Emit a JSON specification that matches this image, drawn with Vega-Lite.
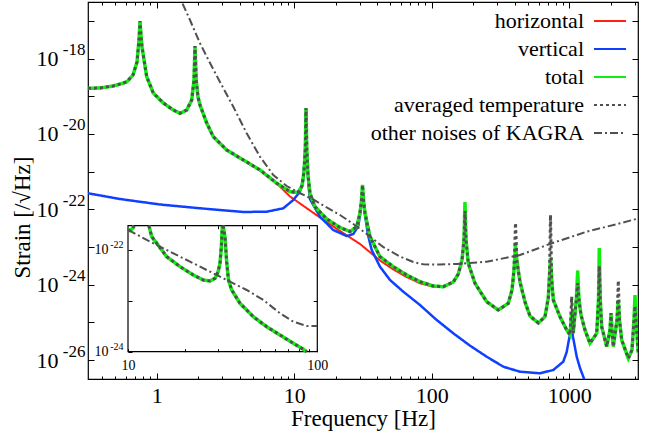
{
  "$schema": "https://vega.github.io/schema/vega-lite/v6.json",
  "width": 550,
  "height": 377,
  "autosize": {"type": "none"},
  "padding": {"left": 88, "top": 2, "right": 16, "bottom": 58},
  "background": "white",
  "config": {
    "font": "'Liberation Serif', 'Times New Roman', 'DejaVu Serif', serif",
    "view": {"stroke": "black", "strokeWidth": 1.2},
    "axis": {"domain": false, "grid": false, "tickColor": "black", "tickWidth": 1, "labelColor": "black", "titleColor": "black", "labelFont": "'Liberation Serif', 'Times New Roman', 'DejaVu Serif', serif", "titleFont": "'Liberation Serif', 'Times New Roman', 'DejaVu Serif', serif", "titleFontWeight": "normal", "labelOverlap": false, "labelFlush": false, "labelBound": false},
    "legend": {"orient": "none", "legendX": 505, "legendY": 2, "padding": 0, "labelFont": "'Liberation Serif', 'Times New Roman', 'DejaVu Serif', serif", "labelFontSize": 22, "labelColor": "black", "labelAlign": "right", "labelOffset": -43, "labelLimit": 0, "symbolType": "stroke", "symbolSize": 1024, "symbolStrokeWidth": 2, "rowPadding": -0.5}
  },
  "datasets": {
    "main": [
      {"s":"horizontal","f":0.3162,"h":1.626e-19},{"s":"horizontal","f":0.3867,"h":1.656e-19},{"s":"horizontal","f":0.4807,"h":1.871e-19},{"s":"horizontal","f":0.5588,"h":2.178e-19},{"s":"horizontal","f":0.6076,"h":2.432e-19},{"s":"horizontal","f":0.6718,"h":3.664e-19},{"s":"horizontal","f":0.7186,"h":8.09e-19},{"s":"horizontal","f":0.743,"h":3.105e-18},{"s":"horizontal","f":0.7556,"h":9.91e-18},{"s":"horizontal","f":0.7684,"h":3.963e-18},{"s":"horizontal","f":0.7811,"h":2.023e-18},{"s":"horizontal","f":0.8451,"h":3.3e-19},{"s":"horizontal","f":0.9438,"h":1.219e-19},{"s":"horizontal","f":1.116,"h":6.62e-20},{"s":"horizontal","f":1.319,"h":4.315e-20},{"s":"horizontal","f":1.476,"h":3.53e-20},{"s":"horizontal","f":1.651,"h":4.315e-20},{"s":"horizontal","f":1.796,"h":7.96e-20},{"s":"horizontal","f":1.866,"h":2.698e-19},{"s":"horizontal","f":1.897,"h":2.153e-18},{"s":"horizontal","f":1.936,"h":2.698e-19},{"s":"horizontal","f":1.995,"h":9.55e-20},{"s":"horizontal","f":2.063,"h":5.86e-20},{"s":"horizontal","f":2.308,"h":1.95e-20},{"s":"horizontal","f":2.578,"h":8.45e-21},{"s":"horizontal","f":3.227,"h":3.75e-21},{"s":"horizontal","f":4.262,"h":2.037e-21},{"s":"horizontal","f":5.636,"h":1.107e-21},{"s":"horizontal","f":7.455,"h":4.91e-22},
      {"s":"horizontal","f":9.314,"h":2.19e-22},{"s":"horizontal","f":11.01,"h":1.43e-22},{"s":"horizontal","f":15.39,"h":6.08e-23},{"s":"horizontal","f":21.51,"h":2.67e-23},{"s":"horizontal","f":30.08,"h":1.205e-23},{"s":"horizontal","f":42.03,"h":4.4e-24},{"s":"horizontal","f":52.54,"h":2.55e-24},{"s":"horizontal","f":65.73,"h":1.6e-24},{"s":"horizontal","f":82.14,"h":1.1e-24},{"s":"horizontal","f":102.6,"h":8.8e-25},
      {"s":"horizontal","f":121.3,"h":8.87e-25},{"s":"horizontal","f":143.5,"h":1.183e-24},{"s":"horizontal","f":156,"h":1.928e-24},{"s":"horizontal","f":166,"h":4.53e-24},{"s":"horizontal","f":171.6,"h":1.538e-23},{"s":"horizontal","f":174.5,"h":1.567e-22},{"s":"horizontal","f":177.5,"h":1.538e-23},{"s":"horizontal","f":184.4,"h":3.71e-24},{"s":"horizontal","f":206.3,"h":1.092e-24},{"s":"horizontal","f":250.9,"h":3.55e-25},{"s":"horizontal","f":304.8,"h":2.14e-25},{"s":"horizontal","f":360.4,"h":3.22e-25},{"s":"horizontal","f":383.4,"h":7.26e-25},{"s":"horizontal","f":396.5,"h":2.46e-24},{"s":"horizontal","f":406.6,"h":1.132e-23},{"s":"horizontal","f":416.9,"h":4.01e-24},{"s":"horizontal","f":438.3,"h":1.183e-24},{"s":"horizontal","f":476.8,"h":3.48e-25},{"s":"horizontal","f":518.2,"h":1.483e-25},{"s":"horizontal","f":595.6,"h":9.66e-26},{"s":"horizontal","f":666.1,"h":1.422e-25},{"s":"horizontal","f":704,"h":4.45e-25},{"s":"horizontal","f":718.4,"h":1.815e-24},{"s":"horizontal","f":730.5,"h":5.13e-24},{"s":"horizontal","f":745.4,"h":1.337e-24},{"s":"horizontal","f":765.6,"h":3.94e-25},{"s":"horizontal","f":856.3,"h":1.422e-25},{"s":"horizontal","f":958.3,"h":6.31e-26},{"s":"horizontal","f":1013,"h":4.65e-26},{"s":"horizontal","f":1042,"h":1.892e-25},{"s":"horizontal","f":1070,"h":5.25e-26},{"s":"horizontal","f":1125,"h":3.94e-25},{"s":"horizontal","f":1152,"h":2.36e-24},{"s":"horizontal","f":1177,"h":3.94e-25},{"s":"horizontal","f":1218,"h":1.578e-25},{"s":"horizontal","f":1301,"h":6.31e-26},{"s":"horizontal","f":1415,"h":2.8e-26},{"s":"horizontal","f":1584,"h":5.15e-26},{"s":"horizontal","f":1632,"h":3.94e-25},{"s":"horizontal","f":1654,"h":9.44e-24},{"s":"horizontal","f":1682,"h":3.94e-25},{"s":"horizontal","f":1722,"h":7.71e-26},{"s":"horizontal","f":1873,"h":2.28e-26},{"s":"horizontal","f":1979,"h":6.31e-26},{"s":"horizontal","f":2012,"h":1.782e-25},{"s":"horizontal","f":2046,"h":6.31e-26},{"s":"horizontal","f":2091,"h":2.28e-26},{"s":"horizontal","f":2225,"h":1.161e-25},{"s":"horizontal","f":2274,"h":3.94e-25},{"s":"horizontal","f":2320,"h":1.161e-25},{"s":"horizontal","f":2407,"h":3.42e-26},{"s":"horizontal","f":2689,"h":1.12e-26},{"s":"horizontal","f":2860,"h":1.86e-26},{"s":"horizontal","f":2957,"h":1.161e-25},{"s":"horizontal","f":3007,"h":5.35e-25},{"s":"horizontal","f":3058,"h":1.161e-25},{"s":"horizontal","f":3178,"h":1.55e-26},

      {"s":"vertical","f":0.3162,"h":2.67e-22},{"s":"vertical","f":0.5403,"h":1.88e-22},{"s":"vertical","f":1.056,"h":1.345e-22},{"s":"vertical","f":2.063,"h":1.067e-22},{"s":"vertical","f":4.262,"h":8.51e-23},{"s":"vertical","f":6.303,"h":8.67e-23},{"s":"vertical","f":8.326,"h":1.067e-22},{"s":"vertical","f":9.842,"h":1.77e-22},{"s":"vertical","f":11.01,"h":2.94e-22},{"s":"vertical","f":11.58,"h":6.01e-22},{"s":"vertical","f":11.97,"h":2.77e-21},{"s":"vertical","f":12.18,"h":4.315e-20},{"s":"vertical","f":12.38,"h":2.037e-21},{"s":"vertical","f":12.69,"h":4.43e-22},{"s":"vertical","f":13.01,"h":1.88e-22},{"s":"vertical","f":14.15,"h":1.086e-22},{"s":"vertical","f":15.39,"h":6.38e-23},{"s":"vertical","f":19.23,"h":2.83e-23},{"s":"vertical","f":24.07,"h":1.963e-23},{"s":"vertical","f":26.89,"h":2.22e-23},{"s":"vertical","f":29.23,"h":3.61e-23},{"s":"vertical","f":30.33,"h":8.51e-23},{"s":"vertical","f":30.99,"h":2.0e-22},{"s":"vertical","f":31.36,"h":3.92e-22},{"s":"vertical","f":31.78,"h":1.77e-22},{"s":"vertical","f":32.7,"h":7.08e-23},{"s":"vertical","f":34.39,"h":2.09e-23},{"s":"vertical","f":36.59,"h":8.35e-24},{"s":"vertical","f":42.03,"h":3.01e-24},{"s":"vertical","f":49.71,"h":1.337e-24},{"s":"vertical","f":62.11,"h":6.54e-25},{"s":"vertical","f":82.14,"h":2.9e-25},{"s":"vertical","f":108.6,"h":1.161e-25},{"s":"vertical","f":143.5,"h":5.15e-26},{"s":"vertical","f":189.8,"h":2.42e-26},{"s":"vertical","f":250.9,"h":1.235e-26},{"s":"vertical","f":331.5,"h":6.7e-27},{"s":"vertical","f":438.3,"h":4.94e-27},{"s":"vertical","f":612.9,"h":4.48e-27},{"s":"vertical","f":765.6,"h":5.48e-27},{"s":"vertical","f":904.4,"h":9.1e-27},{"s":"vertical","f":958.3,"h":1.644e-26},{"s":"vertical","f":984.2,"h":2.85e-26},{"s":"vertical","f":1021,"h":5.58e-26},{"s":"vertical","f":1042,"h":7.57e-26},{"s":"vertical","f":1065,"h":4.11e-26},{"s":"vertical","f":1133,"h":1.235e-26},{"s":"vertical","f":1197,"h":6.19e-27},{"s":"vertical","f":1265,"h":3.64e-27},{"s":"vertical","f":1346,"h":1.82e-27},

      {"s":"total","f":0.3162,"h":1.626e-19},{"s":"total","f":0.3867,"h":1.656e-19},{"s":"total","f":0.4807,"h":1.871e-19},{"s":"total","f":0.5588,"h":2.178e-19},{"s":"total","f":0.6076,"h":2.432e-19},{"s":"total","f":0.6718,"h":3.664e-19},{"s":"total","f":0.7186,"h":8.09e-19},{"s":"total","f":0.743,"h":3.105e-18},{"s":"total","f":0.7556,"h":9.91e-18},{"s":"total","f":0.7684,"h":3.963e-18},{"s":"total","f":0.7811,"h":2.023e-18},{"s":"total","f":0.8451,"h":3.3e-19},{"s":"total","f":0.9438,"h":1.219e-19},{"s":"total","f":1.116,"h":6.62e-20},{"s":"total","f":1.319,"h":4.315e-20},{"s":"total","f":1.476,"h":3.53e-20},{"s":"total","f":1.651,"h":4.315e-20},{"s":"total","f":1.796,"h":7.96e-20},{"s":"total","f":1.866,"h":2.698e-19},{"s":"total","f":1.897,"h":2.153e-18},{"s":"total","f":1.936,"h":2.698e-19},{"s":"total","f":1.995,"h":9.55e-20},{"s":"total","f":2.063,"h":5.86e-20},{"s":"total","f":2.308,"h":1.95e-20},{"s":"total","f":2.578,"h":8.45e-21},{"s":"total","f":3.227,"h":3.75e-21},{"s":"total","f":4.262,"h":2.037e-21},{"s":"total","f":5.636,"h":1.107e-21},{"s":"total","f":7.455,"h":4.91e-22},{"s":"total","f":9.314,"h":2.94e-22},{"s":"total","f":10.65,"h":2.8e-22},{"s":"total","f":11.39,"h":4.16e-22},{"s":"total","f":11.77,"h":9.79e-22},{"s":"total","f":12.03,"h":3.75e-21},{"s":"total","f":12.18,"h":4.88e-20},{"s":"total","f":12.34,"h":3.75e-21},{"s":"total","f":12.59,"h":8.15e-22},{"s":"total","f":13.01,"h":2.67e-22},{"s":"total","f":14.15,"h":1.175e-22},{"s":"total","f":17.22,"h":5.55e-23},{"s":"total","f":21.51,"h":3.3e-23},{"s":"total","f":25.44,"h":2.58e-23},{"s":"total","f":28.46,"h":3.47e-23},{"s":"total","f":30.08,"h":8.0e-23},{"s":"total","f":30.84,"h":1.77e-22},{"s":"total","f":31.36,"h":4.43e-22},{"s":"total","f":31.89,"h":1.77e-22},{"s":"total","f":32.7,"h":8.0e-23},{"s":"total","f":35.55,"h":1.88e-23},{"s":"total","f":42.03,"h":5.55e-24},{"s":"total","f":52.54,"h":3.01e-24},{"s":"total","f":65.73,"h":1.815e-24},{"s":"total","f":82.14,"h":1.205e-24},{"s":"total","f":102.6,"h":9.27e-25},{"s":"total","f":121.3,"h":8.87e-25},{"s":"total","f":143.5,"h":1.183e-24},{"s":"total","f":156,"h":1.928e-24},{"s":"total","f":166,"h":4.53e-24},{"s":"total","f":171.6,"h":1.538e-23},{"s":"total","f":174.5,"h":1.567e-22},{"s":"total","f":177.5,"h":1.538e-23},{"s":"total","f":184.4,"h":3.71e-24},{"s":"total","f":206.3,"h":1.092e-24},{"s":"total","f":250.9,"h":3.55e-25},{"s":"total","f":304.8,"h":2.14e-25},{"s":"total","f":360.4,"h":3.22e-25},{"s":"total","f":383.4,"h":7.26e-25},{"s":"total","f":396.5,"h":2.46e-24},{"s":"total","f":406.6,"h":1.132e-23},{"s":"total","f":416.9,"h":4.01e-24},{"s":"total","f":438.3,"h":1.183e-24},{"s":"total","f":476.8,"h":3.48e-25},{"s":"total","f":518.2,"h":1.483e-25},{"s":"total","f":595.6,"h":9.66e-26},{"s":"total","f":666.1,"h":1.422e-25},{"s":"total","f":704,"h":4.45e-25},{"s":"total","f":718.4,"h":1.815e-24},{"s":"total","f":730.5,"h":5.13e-24},{"s":"total","f":745.4,"h":1.337e-24},{"s":"total","f":765.6,"h":3.94e-25},{"s":"total","f":856.3,"h":1.422e-25},{"s":"total","f":958.3,"h":6.31e-26},{"s":"total","f":1013,"h":4.65e-26},{"s":"total","f":1042,"h":1.892e-25},{"s":"total","f":1070,"h":5.25e-26},{"s":"total","f":1125,"h":3.94e-25},{"s":"total","f":1152,"h":2.36e-24},{"s":"total","f":1177,"h":3.94e-25},{"s":"total","f":1218,"h":1.578e-25},{"s":"total","f":1301,"h":6.31e-26},{"s":"total","f":1415,"h":2.8e-26},{"s":"total","f":1584,"h":5.15e-26},{"s":"total","f":1632,"h":3.94e-25},{"s":"total","f":1654,"h":9.44e-24},{"s":"total","f":1682,"h":3.94e-25},{"s":"total","f":1722,"h":7.71e-26},{"s":"total","f":1873,"h":2.28e-26},{"s":"total","f":1979,"h":6.31e-26},{"s":"total","f":2012,"h":1.782e-25},{"s":"total","f":2046,"h":6.31e-26},{"s":"total","f":2091,"h":2.28e-26},{"s":"total","f":2225,"h":1.161e-25},{"s":"total","f":2274,"h":3.94e-25},{"s":"total","f":2320,"h":1.161e-25},{"s":"total","f":2407,"h":3.42e-26},{"s":"total","f":2689,"h":1.12e-26},{"s":"total","f":2860,"h":1.86e-26},{"s":"total","f":2957,"h":1.161e-25},{"s":"total","f":3007,"h":5.35e-25},{"s":"total","f":3058,"h":1.161e-25},{"s":"total","f":3178,"h":1.55e-26},

      {"s":"averaged temperature","f":0.3162,"h":1.626e-19},{"s":"averaged temperature","f":0.3867,"h":1.656e-19},{"s":"averaged temperature","f":0.4807,"h":1.871e-19},{"s":"averaged temperature","f":0.5588,"h":2.178e-19},{"s":"averaged temperature","f":0.6076,"h":2.432e-19},{"s":"averaged temperature","f":0.6718,"h":3.664e-19},{"s":"averaged temperature","f":0.7186,"h":8.09e-19},{"s":"averaged temperature","f":0.743,"h":3.105e-18},{"s":"averaged temperature","f":0.7556,"h":9.91e-18},{"s":"averaged temperature","f":0.7684,"h":3.963e-18},{"s":"averaged temperature","f":0.7811,"h":2.023e-18},{"s":"averaged temperature","f":0.8451,"h":3.3e-19},{"s":"averaged temperature","f":0.9438,"h":1.219e-19},{"s":"averaged temperature","f":1.116,"h":6.62e-20},{"s":"averaged temperature","f":1.319,"h":4.315e-20},{"s":"averaged temperature","f":1.476,"h":3.53e-20},{"s":"averaged temperature","f":1.651,"h":4.315e-20},{"s":"averaged temperature","f":1.796,"h":7.96e-20},{"s":"averaged temperature","f":1.866,"h":2.698e-19},{"s":"averaged temperature","f":1.897,"h":2.153e-18},{"s":"averaged temperature","f":1.936,"h":2.698e-19},{"s":"averaged temperature","f":1.995,"h":9.55e-20},{"s":"averaged temperature","f":2.063,"h":5.86e-20},{"s":"averaged temperature","f":2.308,"h":1.95e-20},{"s":"averaged temperature","f":2.578,"h":8.45e-21},{"s":"averaged temperature","f":3.227,"h":3.75e-21},{"s":"averaged temperature","f":4.262,"h":2.037e-21},{"s":"averaged temperature","f":5.636,"h":1.107e-21},{"s":"averaged temperature","f":7.455,"h":4.91e-22},{"s":"averaged temperature","f":9.314,"h":2.94e-22},{"s":"averaged temperature","f":10.65,"h":2.8e-22},{"s":"averaged temperature","f":11.39,"h":4.16e-22},{"s":"averaged temperature","f":11.77,"h":9.79e-22},{"s":"averaged temperature","f":12.03,"h":3.75e-21},{"s":"averaged temperature","f":12.18,"h":4.88e-20},{"s":"averaged temperature","f":12.34,"h":3.75e-21},{"s":"averaged temperature","f":12.59,"h":8.15e-22},{"s":"averaged temperature","f":13.01,"h":2.67e-22},{"s":"averaged temperature","f":14.15,"h":1.175e-22},{"s":"averaged temperature","f":17.22,"h":5.55e-23},{"s":"averaged temperature","f":21.51,"h":3.3e-23},{"s":"averaged temperature","f":25.44,"h":2.58e-23},{"s":"averaged temperature","f":28.46,"h":3.47e-23},{"s":"averaged temperature","f":30.08,"h":8.0e-23},{"s":"averaged temperature","f":30.84,"h":1.77e-22},{"s":"averaged temperature","f":31.36,"h":4.43e-22},{"s":"averaged temperature","f":31.89,"h":1.77e-22},{"s":"averaged temperature","f":32.7,"h":8.0e-23},{"s":"averaged temperature","f":35.55,"h":1.88e-23},{"s":"averaged temperature","f":42.03,"h":5.55e-24},{"s":"averaged temperature","f":52.54,"h":3.01e-24},{"s":"averaged temperature","f":65.73,"h":1.815e-24},{"s":"averaged temperature","f":82.14,"h":1.205e-24},{"s":"averaged temperature","f":102.6,"h":9.27e-25},{"s":"averaged temperature","f":121.3,"h":8.87e-25},{"s":"averaged temperature","f":143.5,"h":1.183e-24},{"s":"averaged temperature","f":156,"h":1.928e-24},{"s":"averaged temperature","f":166,"h":4.53e-24},{"s":"averaged temperature","f":171.6,"h":1.538e-23},{"s":"averaged temperature","f":174.5,"h":9.04e-23},{"s":"averaged temperature","f":177.5,"h":1.538e-23},{"s":"averaged temperature","f":184.4,"h":3.71e-24},{"s":"averaged temperature","f":206.3,"h":1.092e-24},{"s":"averaged temperature","f":250.9,"h":3.55e-25},{"s":"averaged temperature","f":304.8,"h":2.14e-25},{"s":"averaged temperature","f":360.4,"h":3.22e-25},{"s":"averaged temperature","f":383.4,"h":7.26e-25},{"s":"averaged temperature","f":396.5,"h":2.46e-24},{"s":"averaged temperature","f":406.6,"h":4.35e-23},{"s":"averaged temperature","f":416.9,"h":4.01e-24},{"s":"averaged temperature","f":438.3,"h":1.183e-24},{"s":"averaged temperature","f":476.8,"h":3.48e-25},{"s":"averaged temperature","f":518.2,"h":1.483e-25},{"s":"averaged temperature","f":595.6,"h":9.66e-26},{"s":"averaged temperature","f":666.1,"h":1.422e-25},{"s":"averaged temperature","f":704,"h":4.45e-25},{"s":"averaged temperature","f":718.4,"h":1.815e-24},{"s":"averaged temperature","f":730.5,"h":7.08e-23},{"s":"averaged temperature","f":745.4,"h":1.337e-24},{"s":"averaged temperature","f":765.6,"h":3.94e-25},{"s":"averaged temperature","f":856.3,"h":1.422e-25},{"s":"averaged temperature","f":958.3,"h":6.31e-26},{"s":"averaged temperature","f":1013,"h":4.65e-26},{"s":"averaged temperature","f":1042,"h":4.82e-25},{"s":"averaged temperature","f":1070,"h":5.25e-26},{"s":"averaged temperature","f":1125,"h":3.94e-25},{"s":"averaged temperature","f":1152,"h":1.112e-24},{"s":"averaged temperature","f":1177,"h":3.94e-25},{"s":"averaged temperature","f":1218,"h":1.578e-25},{"s":"averaged temperature","f":1301,"h":6.31e-26},{"s":"averaged temperature","f":1415,"h":2.8e-26},{"s":"averaged temperature","f":1584,"h":5.15e-26},{"s":"averaged temperature","f":1632,"h":3.94e-25},{"s":"averaged temperature","f":1654,"h":3.14e-24},{"s":"averaged temperature","f":1682,"h":3.94e-25},{"s":"averaged temperature","f":1722,"h":7.71e-26},{"s":"averaged temperature","f":1873,"h":2.28e-26},{"s":"averaged temperature","f":1979,"h":6.31e-26},{"s":"averaged temperature","f":2012,"h":1.782e-25},{"s":"averaged temperature","f":2046,"h":6.31e-26},{"s":"averaged temperature","f":2091,"h":2.28e-26},{"s":"averaged temperature","f":2225,"h":1.161e-25},{"s":"averaged temperature","f":2274,"h":1.28e-24},{"s":"averaged temperature","f":2320,"h":1.161e-25},{"s":"averaged temperature","f":2407,"h":3.42e-26},{"s":"averaged temperature","f":2689,"h":1.12e-26},{"s":"averaged temperature","f":2860,"h":1.86e-26},{"s":"averaged temperature","f":2957,"h":1.161e-25},{"s":"averaged temperature","f":3007,"h":2.73e-25},{"s":"averaged temperature","f":3058,"h":1.161e-25},{"s":"averaged temperature","f":3178,"h":1.55e-26},

      {"s":"other noises of KAGRA","f":1.38,"h":7.0e-17},{"s":"other noises of KAGRA","f":1.519,"h":3.22e-17},{"s":"other noises of KAGRA","f":1.745,"h":1.054e-17},{"s":"other noises of KAGRA","f":2.063,"h":2.54e-18},{"s":"other noises of KAGRA","f":2.439,"h":7.62e-19},{"s":"other noises of KAGRA","f":2.884,"h":2.39e-19},{"s":"other noises of KAGRA","f":3.603,"h":5.28e-20},{"s":"other noises of KAGRA","f":4.51,"h":1.04e-20},{"s":"other noises of KAGRA","f":5.636,"h":2.49e-21},{"s":"other noises of KAGRA","f":7.04,"h":8.15e-22},{"s":"other noises of KAGRA","f":8.812,"h":4.16e-22},{"s":"other noises of KAGRA","f":11.01,"h":2.67e-22},{"s":"other noises of KAGRA","f":13.76,"h":1.824e-22},{"s":"other noises of KAGRA","f":17.22,"h":1.12e-22},{"s":"other noises of KAGRA","f":21.51,"h":7.08e-23},{"s":"other noises of KAGRA","f":26.89,"h":4.09e-23},{"s":"other noises of KAGRA","f":33.65,"h":2.22e-23},{"s":"other noises of KAGRA","f":44.42,"h":1.0e-23},{"s":"other noises of KAGRA","f":58.76,"h":5.61e-24},{"s":"other noises of KAGRA","f":73.4,"h":4.01e-24},{"s":"other noises of KAGRA","f":86.8,"h":3.48e-24},{"s":"other noises of KAGRA","f":114.8,"h":3.44e-24},{"s":"other noises of KAGRA","f":151.9,"h":3.55e-24},{"s":"other noises of KAGRA","f":250.9,"h":4.08e-24},{"s":"other noises of KAGRA","f":438.3,"h":6.15e-24},{"s":"other noises of KAGRA","f":765.6,"h":1.303e-23},{"s":"other noises of KAGRA","f":1339,"h":2.55e-23},{"s":"other noises of KAGRA","f":2339,"h":4.27e-23},{"s":"other noises of KAGRA","f":3162,"h":5.71e-23}
    ],
    "inset": [
      {"s":"total","g":"A","f":10.0,"h":2.47e-22},{"s":"total","g":"A","f":10.25,"h":2.41e-22},{"s":"total","g":"A","f":10.5,"h":2.59e-22},{"s":"total","g":"A","f":10.8,"h":3.0e-22},
      {"s":"total","g":"B","f":12.9,"h":3.0e-22},{"s":"total","g":"B","f":13.34,"h":1.83e-22},{"s":"total","g":"B","f":14.18,"h":1.355e-22},{"s":"total","g":"B","f":16.02,"h":7.38e-23},{"s":"total","g":"B","f":18.83,"h":4.7e-23},{"s":"total","g":"B","f":22.13,"h":3.22e-23},{"s":"total","g":"B","f":24.99,"h":2.57e-23},{"s":"total","g":"B","f":27.11,"h":2.45e-23},{"s":"total","g":"B","f":28.82,"h":2.77e-23},{"s":"total","g":"B","f":29.89,"h":3.69e-23},{"s":"total","g":"B","f":30.62,"h":5.47e-23},{"s":"total","g":"B","f":31.18,"h":1.253e-22},{"s":"total","g":"B","f":31.49,"h":3.0e-22},
      {"s":"total","g":"C","f":31.83,"h":3.0e-22},{"s":"total","g":"C","f":32.53,"h":1.83e-22},{"s":"total","g":"C","f":33.21,"h":5.81e-23},{"s":"total","g":"C","f":33.95,"h":2.57e-23},{"s":"total","g":"C","f":35.3,"h":1.633e-23},{"s":"total","g":"C","f":39.05,"h":8.95e-24},{"s":"total","g":"C","f":45.91,"h":4.88e-24},{"s":"total","g":"C","f":54.03,"h":3.1e-24},{"s":"total","g":"C","f":63.53,"h":2.13e-24},{"s":"total","g":"C","f":74.68,"h":1.462e-24},{"s":"total","g":"C","f":84.34,"h":1.114e-24},{"s":"total","g":"C","f":87.9,"h":1.0e-24},
      {"s":"other noises of KAGRA","g":"E","f":10.04,"h":2.47e-22},{"s":"other noises of KAGRA","g":"E","f":12.56,"h":1.574e-22},{"s":"other noises of KAGRA","g":"E","f":15.37,"h":1.079e-22},{"s":"other noises of KAGRA","g":"E","f":18.83,"h":7.38e-23},{"s":"other noises of KAGRA","g":"E","f":23.07,"h":5.07e-23},{"s":"other noises of KAGRA","g":"E","f":28.22,"h":3.48e-23},{"s":"other noises of KAGRA","g":"E","f":34.58,"h":2.38e-23},{"s":"other noises of KAGRA","g":"E","f":42.37,"h":1.633e-23},{"s":"other noises of KAGRA","g":"E","f":51.85,"h":1.04e-23},{"s":"other noises of KAGRA","g":"E","f":63.53,"h":5.69e-24},{"s":"other noises of KAGRA","g":"E","f":74.68,"h":3.89e-24},{"s":"other noises of KAGRA","g":"E","f":87.9,"h":3.2e-24},{"s":"other noises of KAGRA","g":"E","f":100,"h":3.2e-24}
    ]
  },
  "layer": [
    {
      "data": {"name": "main"},
      "resolve": {"axis": {"x": "independent", "y": "independent"}},
      "layer": [
        {
          "transform": [{"filter": "datum.s === 'horizontal'"}],
          "mark": {"type": "line", "clip": true, "strokeWidth": 2},
          "encoding": {
            "x": {"field": "f", "type": "quantitative", "scale": {"type": "log", "domain": [0.316228, 3162.28], "nice": false},
                  "axis": {"orient": "bottom", "values": [1, 10, 100, 1000], "format": "d", "tickSize": -6, "labelPadding": 12, "labelFontSize": 22, "title": "Frequency [Hz]", "titleFontSize": 23, "titlePadding": 1}},
            "y": {"field": "h", "type": "quantitative", "scale": {"type": "log", "domain": [3.16228e-27, 3.16228e-17], "nice": false},
                  "axis": {"orient": "left", "values": [1e-26, 1e-25, 1e-24, 1e-23, 1e-22, 1e-21, 1e-20, 1e-19, 1e-18, 1e-17], "labelExpr": "round(log(datum.value)/LN10) % 2 == 0 ? '10' : ''", "tickSize": -6, "labelPadding": 36, "labelFontSize": 22, "title": "Strain [/√Hz]", "titleFontSize": 23, "titlePadding": 2, "titleY": 215}},
            "color": {"field": "s", "type": "nominal", "scale": {"domain": ["horizontal", "vertical", "total", "averaged temperature", "other noises of KAGRA"], "range": ["#ff2010", "#1040ff", "#10ee10", "#505050", "#505050"]}, "legend": {"title": null}},
            "strokeDash": {"field": "s", "type": "nominal", "scale": {"domain": ["horizontal", "vertical", "total", "averaged temperature", "other noises of KAGRA"], "range": [[1, 0], [1, 0], [1, 0], [3, 3], [8, 3, 2, 3]]}, "legend": {"title": null}}
          }
        },
        {
          "transform": [{"filter": "datum.s === 'vertical'"}],
          "mark": {"type": "line", "clip": true, "strokeWidth": 2.5},
          "encoding": {
            "x": {"field": "f", "type": "quantitative", "scale": {"type": "log", "domain": [0.316228, 3162.28], "nice": false},
                  "axis": {"orient": "bottom", "values": [0.4, 0.5, 0.6, 0.7, 0.8, 0.9, 2, 3, 4, 5, 6, 7, 8, 9, 20, 30, 40, 50, 60, 70, 80, 90, 200, 300, 400, 500, 600, 700, 800, 900, 2000, 3000], "labels": false, "tickSize": -3, "title": null}},
            "y": {"field": "h", "type": "quantitative", "scale": {"type": "log", "domain": [3.16228e-27, 3.16228e-17], "nice": false},
                  "axis": {"orient": "left", "values": [1e-26, 1e-25, 1e-24, 1e-23, 1e-22, 1e-21, 1e-20, 1e-19, 1e-18, 1e-17], "labelExpr": "round(log(datum.value)/LN10) % 2 == 0 ? '-' + abs(round(log(datum.value)/LN10)) : ''", "ticks": false, "labelPadding": 3, "labelFontSize": 17, "labelOffset": -9, "title": null}},
            "color": {"field": "s", "type": "nominal", "legend": {"title": null}},
            "strokeDash": {"field": "s", "type": "nominal", "legend": {"title": null}}
          }
        },
        {
          "transform": [{"filter": "datum.s === 'total'"}],
          "mark": {"type": "line", "clip": true, "strokeWidth": 3.5},
          "encoding": {
            "x": {"field": "f", "type": "quantitative", "scale": {"type": "log", "domain": [0.316228, 3162.28], "nice": false},
                  "axis": {"orient": "top", "values": [1, 10, 100, 1000], "labels": false, "tickSize": -6, "title": null}},
            "y": {"field": "h", "type": "quantitative", "scale": {"type": "log", "domain": [3.16228e-27, 3.16228e-17], "nice": false},
                  "axis": {"orient": "right", "values": [1e-26, 1e-25, 1e-24, 1e-23, 1e-22, 1e-21, 1e-20, 1e-19, 1e-18, 1e-17], "labels": false, "tickSize": -6, "title": null}},
            "color": {"field": "s", "type": "nominal", "legend": {"title": null}},
            "strokeDash": {"field": "s", "type": "nominal", "legend": {"title": null}}
          }
        },
        {
          "transform": [{"filter": "datum.s === 'averaged temperature'"}],
          "mark": {"type": "line", "clip": true, "strokeWidth": 3},
          "encoding": {
            "x": {"field": "f", "type": "quantitative", "scale": {"type": "log", "domain": [0.316228, 3162.28], "nice": false},
                  "axis": {"orient": "top", "values": [0.4, 0.5, 0.6, 0.7, 0.8, 0.9, 2, 3, 4, 5, 6, 7, 8, 9, 20, 30, 40, 50, 60, 70, 80, 90, 200, 300, 400, 500, 600, 700, 800, 900, 2000, 3000], "labels": false, "tickSize": -3, "title": null}},
            "y": {"field": "h", "type": "quantitative", "scale": {"type": "log", "domain": [3.16228e-27, 3.16228e-17], "nice": false}, "axis": null},
            "color": {"field": "s", "type": "nominal", "legend": {"title": null}},
            "strokeDash": {"field": "s", "type": "nominal", "legend": {"title": null}}
          }
        },
        {
          "transform": [{"filter": "datum.s === 'other noises of KAGRA'"}],
          "mark": {"type": "line", "clip": true, "strokeWidth": 2},
          "encoding": {
            "x": {"field": "f", "type": "quantitative", "scale": {"type": "log", "domain": [0.316228, 3162.28], "nice": false}, "axis": null},
            "y": {"field": "h", "type": "quantitative", "scale": {"type": "log", "domain": [3.16228e-27, 3.16228e-17], "nice": false}, "axis": null},
            "color": {"field": "s", "type": "nominal", "legend": {"title": null}},
            "strokeDash": {"field": "s", "type": "nominal", "legend": {"title": null}}
          }
        }
      ]
    },
    {
      "data": {"name": "inset"},
      "resolve": {"axis": {"x": "independent", "y": "independent"}},
      "layer": [
        {
          "transform": [{"aggregate": [{"op": "count", "as": "n"}]}],
          "mark": {"type": "rect", "fill": "white", "stroke": "black", "strokeWidth": 1.2},
          "encoding": {
            "x": {"datum": 10, "type": "quantitative", "scale": {"type": "log", "domain": [10, 100], "range": [40, 229.3], "nice": false},
                  "axis": {"orient": "bottom", "offset": -27.3, "zindex": 1, "values": [10, 20, 30, 40, 50, 60, 70, 80, 90, 100], "labelExpr": "(datum.value == 10 || datum.value == 100) ? datum.value + '' : ''", "tickSize": -3, "labelPadding": 10, "labelFontSize": 14, "title": null}},
            "x2": {"datum": 100},
            "y": {"datum": 1e-24, "type": "quantitative", "scale": {"type": "log", "domain": [1e-24, 3e-22], "range": [349.7, 223.7], "nice": false},
                  "axis": {"orient": "left", "offset": -40, "zindex": 1, "values": [1e-24, 1e-23, 1e-22], "labelExpr": "round(log(datum.value)/LN10) % 2 == 0 ? '10' : ''", "tickSize": -4, "labelPadding": 24, "labelFontSize": 14, "title": null}},
            "y2": {"datum": 3e-22}
          }
        },
        {
          "transform": [{"filter": "datum.s === 'total'"}],
          "mark": {"type": "line", "stroke": "#10ee10", "strokeWidth": 3.5},
          "encoding": {
            "x": {"field": "f", "type": "quantitative", "scale": {"type": "log", "domain": [10, 100], "range": [40, 229.3], "nice": false},
                  "axis": {"orient": "top", "offset": -223.7, "zindex": 1, "values": [20, 30, 40, 50, 60, 70, 80, 90], "labels": false, "tickSize": -3, "title": null}},
            "y": {"field": "h", "type": "quantitative", "scale": {"type": "log", "domain": [1e-24, 3e-22], "range": [349.7, 223.7], "nice": false},
                  "axis": {"orient": "right", "offset": -320.7, "zindex": 1, "values": [1e-23, 1e-22], "labels": false, "tickSize": -4, "title": null}},
            "detail": {"field": "g", "type": "nominal"}
          }
        },
        {
          "transform": [{"filter": "datum.s === 'total'"}],
          "mark": {"type": "line", "stroke": "#505050", "strokeWidth": 3, "strokeDash": [3, 3]},
          "encoding": {
            "x": {"field": "f", "type": "quantitative", "scale": {"type": "log", "domain": [10, 100], "range": [40, 229.3], "nice": false}, "axis": null},
            "y": {"field": "h", "type": "quantitative", "scale": {"type": "log", "domain": [1e-24, 3e-22], "range": [349.7, 223.7], "nice": false},
                  "axis": {"orient": "left", "offset": -40, "zindex": 1, "values": [1e-24, 1e-23, 1e-22], "labelExpr": "round(log(datum.value)/LN10) % 2 == 0 ? '-' + abs(round(log(datum.value)/LN10)) : ''", "ticks": false, "labelPadding": 5, "labelFontSize": 10, "labelOffset": -5, "title": null}},
            "detail": {"field": "g", "type": "nominal"}
          }
        },
        {
          "transform": [{"filter": "datum.s === 'other noises of KAGRA'"}],
          "mark": {"type": "line", "stroke": "#505050", "strokeWidth": 2, "strokeDash": [8, 3, 2, 3]},
          "encoding": {
            "x": {"field": "f", "type": "quantitative", "scale": {"type": "log", "domain": [10, 100], "range": [40, 229.3], "nice": false}, "axis": null},
            "y": {"field": "h", "type": "quantitative", "scale": {"type": "log", "domain": [1e-24, 3e-22], "range": [349.7, 223.7], "nice": false}, "axis": null},
            "detail": {"field": "g", "type": "nominal"}
          }
        }
      ]
    }
  ],
  "resolve": {"scale": {"x": "independent", "y": "independent"}}
}
